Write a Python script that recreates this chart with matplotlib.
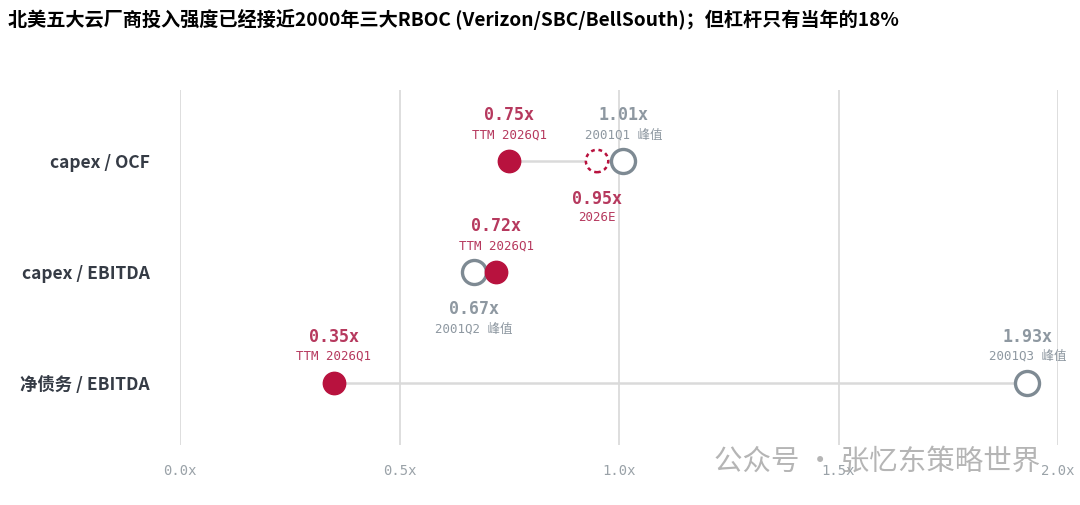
import numpy as np
import matplotlib.pyplot as plt

plt.rcParams['font.family'] = ['Noto Sans CJK SC', 'DejaVu Sans']

# data
metrics = ['capex / OCF', 'capex / EBITDA', '净债务 / EBITDA']
current = [0.75, 0.72, 0.35]
current_tag = ['TTM 2026Q1', 'TTM 2026Q1', 'TTM 2026Q1']
peak = [1.01, 0.67, 1.93]
peak_tag = ['2001Q1 峰值', '2001Q2 峰值', '2001Q3 峰值']
peak_below = [False, True, False]
est_value = 0.95
est_tag = '2026E'
xticks = [0.0, 0.5, 1.0, 1.5, 2.0]

red = '#B8123E'
red_txt = '#B6395E'
gray = '#7E8A93'
gray_txt = '#8E98A1'
mono = ['DejaVu Sans Mono', 'Noto Sans CJK SC']

fig = plt.figure(figsize=(10.8, 5.05), dpi=100)
ax = fig.add_axes([180 / 1080, 1 - 445 / 505, 878 / 1080, 355 / 505])

y = np.arange(len(metrics))

for i in range(len(metrics)):
    ax.plot([current[i], peak[i]], [y[i], y[i]], color='#DADADA', lw=1.8, zorder=2)

# 2026E dashed circle on the first row
ax.scatter([est_value], [y[0]], s=260, facecolor='white', edgecolor=red,
           linewidth=1.8, linestyle=(0, (1.5, 1.5)), zorder=3)
ax.scatter(peak, y, s=300, facecolor='white', edgecolor=gray, linewidth=2.4, zorder=4)
ax.scatter(current, y, s=260, color=red, zorder=5)


def label(x, yy, val, tag, color, below):
    if below:
        o1, o2 = -27, -41
    else:
        o1, o2 = 33, 19
    ax.annotate(f'{val:.2f}x', (x, yy), xytext=(0, o1), textcoords='offset points',
                ha='center', va='center', fontsize=12, fontweight='bold',
                color=color, family=mono)
    ax.annotate(tag, (x, yy), xytext=(0, o2), textcoords='offset points',
                ha='center', va='center', fontsize=9, color=color, family=mono)


for i in range(len(metrics)):
    label(current[i], y[i], current[i], current_tag[i], red_txt, False)
    label(peak[i], y[i], peak[i], peak_tag[i], gray_txt, peak_below[i])
label(est_value, y[0], est_value, est_tag, red_txt, True)

ax.set_xlim(0, 2.0)
ax.set_ylim(2.56, -0.64)
ax.set_xticks(xticks)
ax.set_xticklabels([f'{t:.1f}x' for t in xticks], family=mono, fontsize=10, color='#9AA2A8')
ax.set_yticks(y)
ax.set_yticklabels(metrics, fontsize=12.5, color='#353B45', fontweight='semibold')
ax.tick_params(axis='x', length=0, pad=14)
ax.tick_params(axis='y', length=0, pad=22)
ax.grid(axis='x', color='#DEDEDE', lw=1.4, zorder=0)
ax.set_axisbelow(True)
for s in ax.spines.values():
    s.set_visible(False)

fig.text(8 / 1080, 1 - 19 / 505,
         '北美五大云厂商投入强度已经接近2000年三大RBOC (Verizon/SBC/BellSouth)；但杠杆只有当年的18%',
         fontsize=13.8, fontweight='bold', va='center', ha='left', color='black')

# watermark
fig.text(714 / 1080, 1 - 462 / 505, '公众号 · 张忆东策略世界', fontsize=20.5,
         color='#A8A8A8', alpha=0.85, va='center', ha='left')

fig.savefig('out.png', dpi=100, facecolor='white')
